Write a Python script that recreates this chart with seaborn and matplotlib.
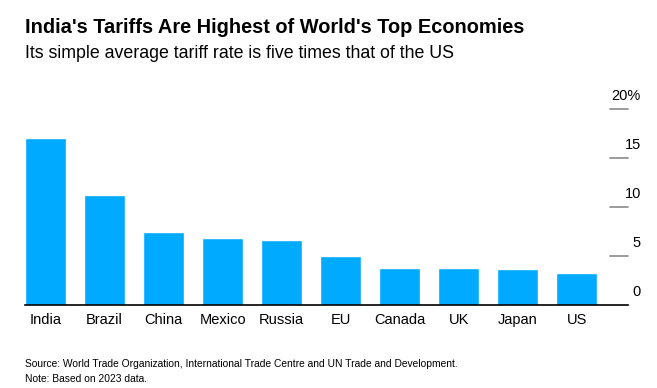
import matplotlib
matplotlib.use("Agg")
import matplotlib.pyplot as plt
import seaborn as sns
import pandas as pd
from matplotlib.transforms import blended_transform_factory, offset_copy
from matplotlib import font_manager

countries = ["India", "Brazil", "China", "Mexico", "Russia", "EU", "Canada", "UK", "Japan", "US"]
tariffs = [17.0, 11.2, 7.5, 6.8, 6.6, 5.0, 3.8, 3.8, 3.7, 3.3]
tick_values = [0, 5, 10, 15, 20]
tick_labels = ["0", "5", "10", "15", "20%"]

sns.set_theme(style="white")
plt.rcParams["font.family"] = ["Liberation Sans", "DejaVu Sans"]

names = {f.name for f in font_manager.fontManager.ttflist}
note_family = ["Liberation Sans Narrow", "Liberation Sans"] if "Liberation Sans Narrow" in names else ["Liberation Sans"]
note_size = 9 if "Liberation Sans Narrow" in names else 7.4

W, H = 657, 388
fig = plt.figure(figsize=(W / 100, H / 100), dpi=100)
ax_left, ax_right = 25, 628
ax_top, ax_bottom = 80, 305
ax = fig.add_axes([ax_left / W, 1 - ax_bottom / H, (ax_right - ax_left) / W, (ax_bottom - ax_top) / H])

df = pd.DataFrame({"country": countries, "tariff": tariffs})
sns.barplot(data=df, x="country", y="tariff", color="#00AAFF", saturation=1, width=0.695, ax=ax)

ax.set_xlim(-0.35, 9.87)
ymax = (ax_bottom - ax_top) / 9.8
ax.set_ylim(0, ymax)
for s in ["top", "right", "left"]:
    ax.spines[s].set_visible(False)
ax.spines["bottom"].set_color("#000000")
ax.spines["bottom"].set_linewidth(1.2)
ax.set_xlabel("")
ax.set_ylabel("")
ax.tick_params(axis="x", length=0, pad=6, labelsize=10.5, labelcolor="#000000")
ax.set_yticks([])

trans = blended_transform_factory(ax.transAxes, ax.transData)
x0 = (610 - ax_left) / (ax_right - ax_left)
for v, lab in zip(tick_values, tick_labels):
    if v > 0:
        ax.plot([x0, 1.0], [v, v], color="#8a8a8a", lw=1.2, transform=trans, clip_on=False)
    t = offset_copy(trans, fig=fig, x=0, y=6, units="dots")
    ax.text((641 - ax_left) / (ax_right - ax_left), v, lab, transform=t, ha="right", va="bottom",
            fontsize=10.5, color="#000000")

fig.text(25 / W, 1 - 33 / H, "India's Tariffs Are Highest of World's Top Economies",
         fontsize=14.4, fontweight="bold", ha="left", va="baseline", color="#000000")
fig.text(25 / W, 1 - 58 / H, "Its simple average tariff rate is five times that of the US",
         fontsize=12.8, ha="left", va="baseline", color="#000000")
fig.text(25 / W, 1 - 367 / H,
         "Source: World Trade Organization, International Trade Centre and UN Trade and Development.",
         fontsize=note_size, family=note_family, ha="left", va="baseline", color="#000000")
fig.text(25 / W, 1 - 382 / H, "Note: Based on 2023 data.",
         fontsize=note_size, family=note_family, ha="left", va="baseline", color="#000000")

fig.savefig("out.png", dpi=100)
